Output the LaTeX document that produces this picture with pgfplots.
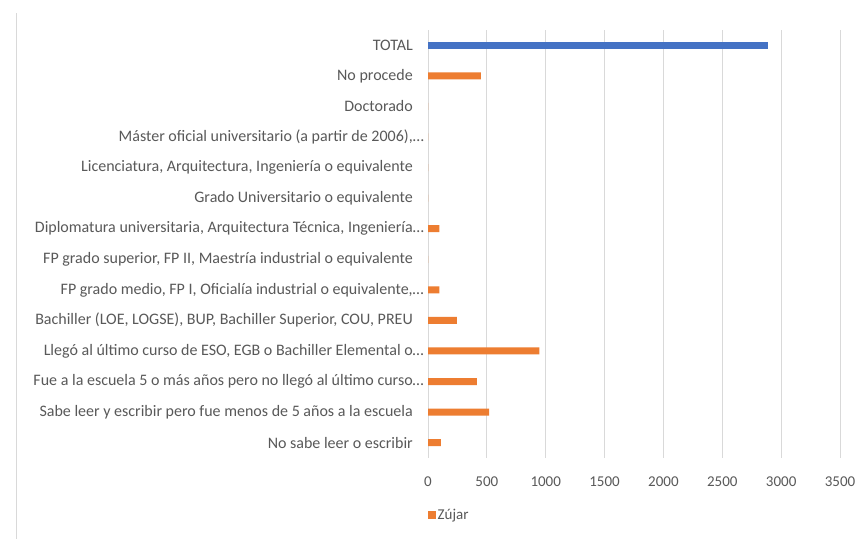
\documentclass[border=0pt]{standalone}
\usepackage{pgfplots}
\pgfplotsset{compat=1.18}
\usepackage{fontspec}
\setmainfont{Carlito}
\definecolor{txt}{HTML}{595959}
\definecolor{gridc}{HTML}{D9D9D9}
\definecolor{blueB}{HTML}{4472C4}
\definecolor{orangeB}{HTML}{ED7D31}
\begin{document}
\begin{tikzpicture}
\fill[white] (0pt,0pt) rectangle (859pt,539pt);
\draw[gridc, line width=1pt] (16.5pt,0pt) -- (16.5pt,526pt);
\begin{axis}[
  at={(428pt,81pt)}, anchor=south west,
  scale only axis, width=412pt, height=428pt,
  xmin=0, xmax=3500, ymin=-0.5, ymax=13.5,
  xtick={0,500,...,3500},
  ytick={0,...,13},
  yticklabels={
    No sabe leer o escribir,
    Sabe leer y escribir pero fue menos de 5 años a la escuela,
    Fue a la escuela 5 o más años pero no llegó al último curso\rlap{…},
    Llegó al último curso de ESO{,} EGB o Bachiller Elemental o\rlap{…},
    Bachiller (LOE{,} LOGSE){,} BUP{,} Bachiller Superior{,} COU{,} PREU,
    FP grado medio{,} FP I{,} Oficialía industrial o equivalente{,}\rlap{…},
    FP grado superior{,} FP II{,} Maestría industrial o equivalente,
    Diplomatura universitaria{,} Arquitectura Técnica{,} Ingeniería\rlap{…},
    Grado Universitario o equivalente,
    Licenciatura{,} Arquitectura{,} Ingeniería o equivalente,
    Máster oficial universitario (a partir de 2006){,}\rlap{…},
    Doctorado,
    No procede,
    TOTAL},
  axis line style={draw=none},
  major tick length=0pt,
  xmajorgrids, ymajorgrids=false,
  major grid style={draw=gridc, line width=1pt},
  yticklabel style={anchor=east, inner sep=0pt, xshift=-15pt, text=txt, font=\fontsize{16}{18}\selectfont},
  xticklabel style={anchor=center, inner sep=0pt, text=txt, font=\fontsize{15}{17}\selectfont, yshift=-24pt},
  /pgf/number format/assume math mode=true,
  /pgf/number format/1000 sep={},
  legend style={at={(0,-0.134)}, anchor=west, draw=none, fill=none,
    font=\fontsize{15}{17}\selectfont, text=txt, inner sep=0pt,
    legend cell align=left, /tikz/every even column/.append style={column sep=0pt}},
  legend image code/.code={\fill[#1] (0pt,-3.5pt) rectangle (7.5pt,4pt);},
]
\addplot[xbar, bar width=7pt, fill=orangeB, draw=none] coordinates {
  (110,0) (520,1) (415,2) (946,3) (246,4) (96,5) (0,6) (96,7) (0,8) (0,9) (0,10) (0,11) (449,12)};
\addlegendentry{Zújar}
\addplot[xbar, bar width=7pt, fill=blueB, draw=none, forget plot] coordinates {(2885,13)};
\end{axis}
\end{tikzpicture}
\end{document}
